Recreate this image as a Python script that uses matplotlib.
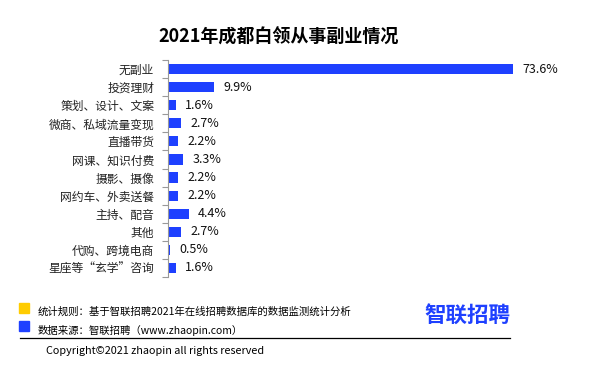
import matplotlib
matplotlib.use("Agg")
import matplotlib.pyplot as plt
from matplotlib.patches import Rectangle
from matplotlib.lines import Line2D

plt.rcParams["font.family"] = ["Noto Sans CJK SC", "DejaVu Sans"]

categories = ["无副业", "投资理财", "策划、设计、文案", "微商、私域流量变现", "直播带货",
              "网课、知识付费", "摄影、摄像", "网约车、外卖送餐", "主持、配音", "其他",
              "代购、跨境电商", "星座等“玄学”咨询"]
values = [73.6, 9.9, 1.6, 2.7, 2.2, 3.3, 2.2, 2.2, 4.4, 2.7, 0.5, 1.6]

title = "2021年成都白领从事副业情况"
note_rule = "统计规则：基于智联招聘2021年在线招聘数据库的数据监测统计分析"
note_source = "数据来源：智联招聘（www.zhaopin.com）"
copyright_text = "Copyright©2021 zhaopin all rights reserved"
logo_text = "智联招聘"

BLUE = "#1e40ff"
YELLOW = "#ffcc00"

W, H = 608, 382
fig = plt.figure(figsize=(W / 100, H / 100), dpi=100)

# axes in pixel coords: left 168, right 543, top 60, bottom 277
ax = fig.add_axes([168 / W, 1 - 277 / H, (543 - 168) / W, (277 - 60) / H])
ys = list(range(len(categories)))
ax.barh(ys, values, height=0.56, color=BLUE)
ax.set_ylim(len(categories) - 0.5, -0.5)
ax.set_xlim(0, 80)
ax.set_yticks(ys)
ax.set_yticklabels(categories, fontsize=8.5, color="#222222")
ax.tick_params(axis="y", length=0, pad=10)
ax.set_yticks([y + 0.5 for y in range(-1, len(categories))], minor=True)
ax.tick_params(axis="y", which="minor", length=4, color="#999999", width=0.8)
ax.set_xticks([])
for s in ["top", "right", "bottom"]:
    ax.spines[s].set_visible(False)
ax.spines["left"].set_color("#999999")
ax.spines["left"].set_linewidth(0.8)
for y, v in zip(ys, values):
    ax.text(v + 2.0, y, f"{v}%", va="center", ha="left", fontsize=9, color="#111111")

fig.text(279 / W, 1 - 37 / H, title, ha="center", va="center", fontsize=13, fontweight="bold")

# footer
fig.patches.append(Rectangle((19 / W, 1 - 313 / H), 10 / W, 10 / H, transform=fig.transFigure,
                             color=YELLOW))
fig.patches.append(Rectangle((19 / W, 1 - 331 / H), 10 / W, 10 / H, transform=fig.transFigure,
                             color=BLUE))
fig.text(38 / W, 1 - 312 / H, note_rule, ha="left", va="center", fontsize=7.5)
fig.text(38 / W, 1 - 330 / H, note_source, ha="left", va="center", fontsize=7.5)
fig.lines.append(Line2D([20 / W, 510 / W], [1 - 338 / H, 1 - 338 / H], transform=fig.transFigure,
                        color="black", linewidth=0.9))
fig.text(46 / W, 1 - 351 / H, copyright_text, ha="left", va="center", fontsize=7.8)
fig.text(510 / W, 1 - 315 / H, logo_text, ha="right", va="center", fontsize=15.5,
         fontweight="bold", color=BLUE)

fig.savefig("out.png", dpi=100)
